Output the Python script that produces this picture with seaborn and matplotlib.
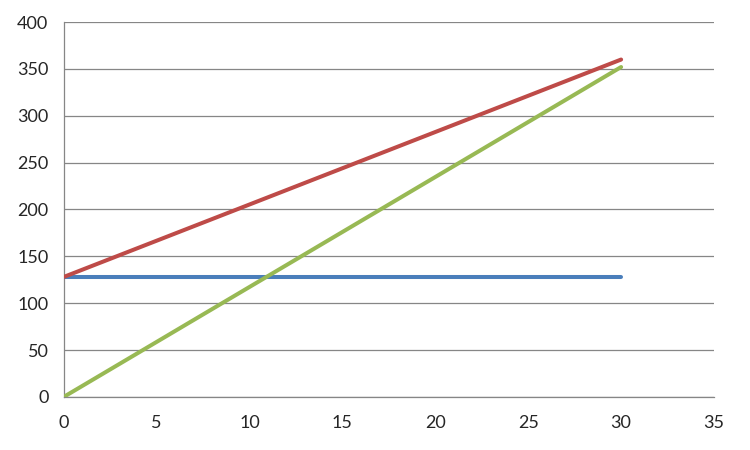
import matplotlib
matplotlib.use("Agg")
import matplotlib.pyplot as plt
import seaborn as sns
import pandas as pd

# --- data ---
x_vals = [0, 30]
blue_vals = [128, 128]
red_vals = [128, 360]
green_vals = [0, 352]

series_names = ["blue", "red", "green"]
series_colors = ["#4A7EBB", "#BE4B48", "#98B954"]

df = pd.DataFrame({
    "x": x_vals * 3,
    "y": blue_vals + red_vals + green_vals,
    "series": [n for n in series_names for _ in x_vals],
})

sns.set_style("white")
plt.rcParams["font.family"] = ["Lato", "DejaVu Sans"]

fig = plt.figure(figsize=(7.5, 4.5), dpi=100)
ax = fig.add_axes([0.085, 0.118, 0.867, 0.833])

sns.lineplot(data=df, x="x", y="y", hue="series", palette=series_colors,
             linewidth=2.9, legend=False, ax=ax, zorder=3)

ax.set_xlim(0, 35)
ax.set_ylim(0, 400)
ax.set_xticks(range(0, 36, 5))
ax.set_yticks(range(0, 401, 50))
ax.set_xlabel("")
ax.set_ylabel("")

ax.grid(axis="y", color="#868686", linewidth=0.9)
ax.grid(axis="x", visible=False)
for side in ["top", "right"]:
    ax.spines[side].set_visible(False)
for side in ["left", "bottom"]:
    ax.spines[side].set_color("#868686")
    ax.spines[side].set_linewidth(0.9)

ax.tick_params(axis="both", direction="out", length=5, color="#868686",
               labelsize=13, width=0.9)
ax.tick_params(axis="x", pad=8)
ax.tick_params(axis="y", pad=6)

fig.savefig("out.png", dpi=100)
